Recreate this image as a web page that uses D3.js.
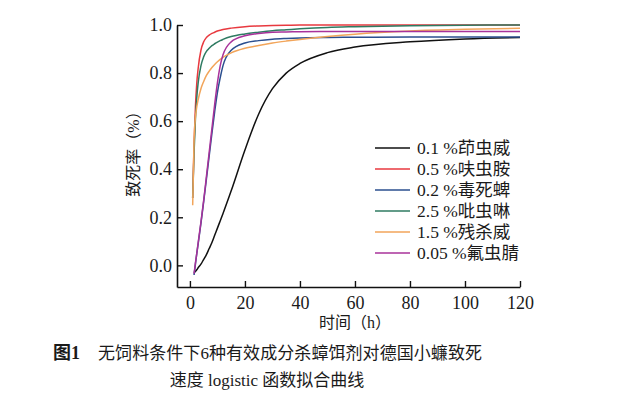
<!DOCTYPE html>
<html><head><meta charset="utf-8">
<script src="https://cdn.jsdelivr.net/npm/d3@7"></script>
<style>
html,body{margin:0;padding:0;background:#fff;}
svg{display:block;}
text{font-family:"Liberation Serif","Noto Sans CJK SC",serif;fill:#1a1a1a;}
</style></head>
<body><svg id="c" width="640" height="398"></svg>
<script>
const times = [1, 1.5, 2, 2.5, 3, 4, 5, 6, 7, 8, 9, 10, 11, 12, 15, 20, 25, 30, 35, 40, 50, 60, 80, 100, 120];
const seriesNames = ["0.1 %茚虫威", "0.5 %呋虫胺", "0.2 %毒死蜱", "2.5 %吡虫啉", "1.5 %残杀威", "0.05 %氟虫腈"];
const seriesColors = ["#111111", "#e8393f", "#2b4f8f", "#2f7b62", "#f2a55a", "#a8329a"];
const indoxacarb = [null, -0.03, -0.025, -0.018, -0.01, 0.005, 0.025, 0.045, 0.07, 0.095, 0.125, 0.155, 0.185, 0.215, 0.31, 0.48, 0.63, 0.735, 0.8, 0.84, 0.885, 0.908, 0.93, 0.942, 0.948];
const dinotefuran = [0.28, 0.5, 0.66, 0.76, 0.82, 0.895, 0.93, 0.948, 0.958, 0.965, 0.97, 0.975, 0.978, 0.981, 0.987, 0.993, 0.996, 0.998, 0.999, 1.0, 1.0, 1.0, 1.0, 1.0, 1.0];
const chlorpyrifos = [null, -0.04, 0.005, 0.05, 0.09, 0.175, 0.265, 0.36, 0.455, 0.55, 0.64, 0.72, 0.78, 0.83, 0.895, 0.925, 0.935, 0.941, 0.944, 0.946, 0.948, 0.949, 0.95, 0.95, 0.95];
const imidacloprid = [0.28, 0.47, 0.61, 0.7, 0.76, 0.83, 0.868, 0.89, 0.903, 0.914, 0.922, 0.929, 0.935, 0.94, 0.952, 0.963, 0.97, 0.976, 0.98, 0.984, 0.99, 0.993, 0.997, 0.999, 1.0];
const propoxur = [0.25, 0.52, 0.615, 0.66, 0.69, 0.735, 0.765, 0.79, 0.808, 0.823, 0.836, 0.847, 0.857, 0.865, 0.884, 0.903, 0.915, 0.925, 0.933, 0.94, 0.952, 0.962, 0.975, 0.982, 0.986];
const fipronil = [null, -0.035, 0.01, 0.05, 0.095, 0.18, 0.27, 0.37, 0.47, 0.57, 0.67, 0.76, 0.83, 0.875, 0.93, 0.955, 0.965, 0.97, 0.971, 0.972, 0.973, 0.973, 0.973, 0.973, 0.973];
const seriesValues = [indoxacarb, dinotefuran, chlorpyrifos, imidacloprid, propoxur, fipronil];
const xTicks = [0, 20, 40, 60, 80, 100, 120];
const yTicks = [0.0, 0.2, 0.4, 0.6, 0.8, 1.0];
const xLabel = "时间（h）";
const yLabel = "致死率（%）";
const captionLabel = "图1";
const captionLine1 = "无饲料条件下6种有效成分杀蟑饵剂对德国小蠊致死";
const captionLine2 = "速度 logistic 函数拟合曲线";

const svg = d3.select("#c");
const x = d3.scaleLinear().domain([-4.7, 120]).range([177, 520]);
const y = d3.scaleLinear().domain([-0.09, 1.0]).range([287, 25]);

// series
const line = d3.line()
  .defined(d => d[1] !== null)
  .x(d => x(d[0])).y(d => y(d[1]))
  .curve(d3.curveMonotoneX);
seriesValues.forEach((vals, i) => {
  svg.append("path")
    .datum(times.map((t, j) => [t, vals[j]]))
    .attr("d", line)
    .attr("fill", "none")
    .attr("stroke", seriesColors[i])
    .attr("stroke-width", 1.5);
});

// axes
const xAxis = d3.axisBottom(x).tickValues(xTicks).tickSizeInner(-6).tickSizeOuter(0).tickPadding(9).tickFormat(d3.format("d"));
const gx = svg.append("g").attr("transform", `translate(0,${y.range()[0]})`).call(xAxis);
const yAxis = d3.axisLeft(y).tickValues(yTicks).tickSizeInner(-6).tickSizeOuter(0).tickPadding(5).tickFormat(d3.format(".1f"));
const gy = svg.append("g").attr("transform", `translate(${x.range()[0]},0)`).call(yAxis);
[gx, gy].forEach(g => {
  g.select(".domain").attr("stroke", "#111").attr("stroke-width", 1.6);
  g.selectAll(".tick line").attr("stroke", "#111").attr("stroke-width", 1.4);
  g.selectAll(".tick text").attr("font-size", 18).attr("fill", "#1a1a1a")
    .attr("font-family", "'Liberation Serif', serif");
});
gx.selectAll(".tick text").attr("dy", "0.71em");

// axis labels
svg.append("text").attr("x", 355).attr("y", 328).attr("text-anchor", "middle")
  .attr("font-size", 16).text(xLabel);
svg.append("text").attr("transform", "translate(139,150) rotate(-90)")
  .attr("text-anchor", "middle").attr("font-size", 16).text(yLabel);

// legend
seriesNames.forEach((name, i) => {
  const ly = 148 + i * 21;
  svg.append("line").attr("x1", 375).attr("x2", 410).attr("y1", ly).attr("y2", ly)
    .attr("stroke", seriesColors[i]).attr("stroke-width", 1.5);
  svg.append("text").attr("x", 417).attr("y", ly + 6).attr("font-size", 17.5).text(name);
});

// caption
svg.append("text").attr("x", 53).attr("y", 359).attr("font-size", 18)
  .attr("font-weight", "bold").text(captionLabel);
svg.append("text").attr("x", 98).attr("y", 359).attr("font-size", 17)
  .attr("textLength", 384).attr("lengthAdjust", "spacing").text(captionLine1);
svg.append("text").attr("x", 267).attr("y", 386).attr("font-size", 17)
  .attr("text-anchor", "middle").text(captionLine2);
</script></body></html>
